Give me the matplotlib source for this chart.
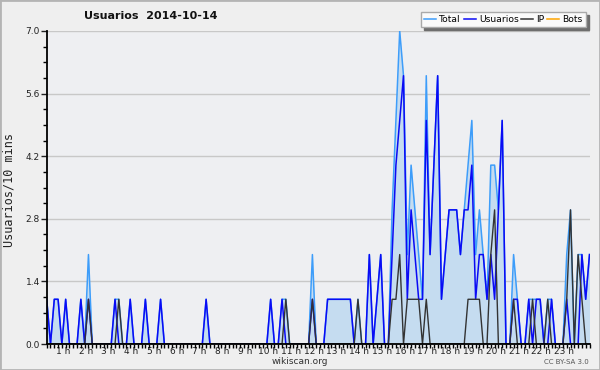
import numpy as np
import matplotlib.pyplot as plt
from matplotlib.lines import Line2D
from matplotlib.patches import Rectangle
from matplotlib.ticker import FixedLocator, MultipleLocator

title = "Usuarios  2014-10-14"
ylabel = "Usuarios/10 mins"
series_names = ["Total", "Usuarios", "IP", "Bots"]
hour_labels = [f"{h} h" for h in range(1, 24)]
ytick_values = [0.0, 1.4, 2.8, 4.2, 5.6, 7.0]

# one value per 10 minutes (144 slots)
total = [1, 0, 1, 1, 0, 1, 0, 0, 0, 1,
         0, 2, 0, 0, 0, 0, 0, 0, 1, 1,
         0, 0, 1, 0, 0, 0, 1, 0, 0, 0,
         1, 0, 0, 0, 0, 0, 0, 0, 0, 0,
         0, 0, 1, 0, 0, 0, 0, 0, 0, 0,
         0, 0, 0, 0, 0, 0, 0, 0, 0, 1,
         0, 0, 1, 1, 0, 0, 0, 0, 0, 0,
         2, 0, 0, 0, 1, 1, 1, 1, 1, 1,
         1, 0, 1, 0, 0, 2, 0, 1, 2, 0,
         0, 3, 5, 7, 6, 2, 4, 3, 2, 1,
         6, 2, 4, 6, 1, 2, 3, 3, 3, 2,
         3, 4, 5, 2, 3, 2, 1, 4, 4, 3,
         5, 0, 0, 2, 1, 0, 0, 1, 1, 1,
         1, 0, 1, 1, 0, 0, 0, 2, 3, 0,
         2, 2, 1, 2]
usuarios = [1, 0, 1, 1, 0, 1, 0, 0, 0, 1,
            0, 1, 0, 0, 0, 0, 0, 0, 1, 0,
            0, 0, 1, 0, 0, 0, 1, 0, 0, 0,
            1, 0, 0, 0, 0, 0, 0, 0, 0, 0,
            0, 0, 1, 0, 0, 0, 0, 0, 0, 0,
            0, 0, 0, 0, 0, 0, 0, 0, 0, 1,
            0, 0, 1, 0, 0, 0, 0, 0, 0, 0,
            1, 0, 0, 0, 1, 1, 1, 1, 1, 1,
            1, 0, 0, 0, 0, 2, 0, 1, 2, 0,
            0, 2, 4, 5, 6, 1, 3, 2, 1, 1,
            5, 2, 4, 6, 1, 2, 3, 3, 3, 2,
            3, 3, 4, 1, 2, 2, 1, 2, 1, 3,
            5, 0, 0, 1, 1, 0, 0, 1, 0, 1,
            1, 0, 0, 1, 0, 0, 0, 1, 0, 0,
            0, 2, 1, 2]
ip = [0, 0, 0, 0, 0, 0, 0, 0, 0, 0,
      0, 1, 0, 0, 0, 0, 0, 0, 0, 1,
      0, 0, 0, 0, 0, 0, 0, 0, 0, 0,
      0, 0, 0, 0, 0, 0, 0, 0, 0, 0,
      0, 0, 0, 0, 0, 0, 0, 0, 0, 0,
      0, 0, 0, 0, 0, 0, 0, 0, 0, 0,
      0, 0, 0, 1, 0, 0, 0, 0, 0, 0,
      1, 0, 0, 0, 0, 0, 0, 0, 0, 0,
      0, 0, 1, 0, 0, 0, 0, 0, 0, 0,
      0, 1, 1, 2, 0, 1, 1, 1, 1, 0,
      1, 0, 0, 0, 0, 0, 0, 0, 0, 0,
      0, 1, 1, 1, 1, 0, 0, 2, 3, 0,
      0, 0, 0, 1, 0, 0, 0, 0, 1, 0,
      0, 0, 1, 0, 0, 0, 0, 1, 3, 0,
      2, 1, 0, 0]
bots = [0] * 144

colors = ["#3d9dfa", "#0a0af5", "#333333", "#ffa500"]
fill_color = "#c5dcf0"
bg = "#efefef"

W, H = 600, 370
fig = plt.figure(figsize=(6, 3.7), dpi=100, facecolor=bg)
ax = fig.add_axes([46.7 / W, 26 / H, 542.8 / W, 313 / H], facecolor="#eeeff2")

x = np.arange(len(total))
ax.fill_between(x, 0, total, color=fill_color, lw=0, zorder=1)
ax.plot(x, total, color=colors[0], lw=1.1, zorder=3)
ax.plot(x, usuarios, color=colors[1], lw=1.1, zorder=4)
ax.plot(x, ip, color=colors[2], lw=1.0, zorder=5)
ax.plot(x, bots, color=colors[3], lw=1.0, zorder=2)

ax.set_xlim(0, len(total) - 1)
ax.set_ylim(0, 7)

for s in ["top", "right"]:
    ax.spines[s].set_visible(False)
for s in ["left", "bottom"]:
    ax.spines[s].set_linewidth(1.3)
    ax.spines[s].set_zorder(6)

ax.yaxis.set_major_locator(FixedLocator(ytick_values))
ax.set_yticklabels([f"{v:.1f}" for v in ytick_values])
ax.yaxis.set_minor_locator(MultipleLocator(0.35))
ax.tick_params(axis="y", which="major", length=4, width=1, labelsize=6.5,
               pad=1, colors="#222222")
ax.tick_params(axis="y", which="minor", length=3, width=1)
ax.grid(axis="y", which="major", color="#c8c8c8", lw=1, zorder=0)
ax.set_axisbelow(True)

ax.xaxis.set_minor_locator(MultipleLocator(1))
ax.set_xticks([6 * h - 1.7 for h in range(1, 24)])
ax.set_xticklabels(hour_labels)
ax.tick_params(axis="x", which="major", length=0, labelsize=6.5, pad=2,
               colors="#222222")
ax.tick_params(axis="x", which="minor", length=3, width=1)

fig.text(151 / W, 1 - 16 / H, title, ha="center", va="center",
         fontsize=8, fontweight="bold", color="#111111")
fig.text(9 / W, 1 - 190 / H, ylabel, ha="center", va="center",
         rotation=90, fontsize=8.5, color="#222222",
         family="DejaVu Sans Mono")
fig.text(300 / W, 1 - 361 / H, "wikiscan.org", ha="center", va="center",
         fontsize=6.5, color="#333333")
fig.text(589 / W, 1 - 362 / H, "CC BY-SA 3.0", ha="right", va="center",
         fontsize=5, color="#555555")

handles = [Line2D([], [], color=c, lw=1.1) for c in colors]
leg = fig.legend(handles, series_names, ncol=4, loc="upper right",
                 bbox_to_anchor=(586 / W, 1 - 12 / H), frameon=True,
                 fancybox=False, shadow={"color": "#6e6e6e", "alpha": 1},
                 edgecolor="#aaaaaa", facecolor="#fafafa", framealpha=1,
                 fontsize=6.6, handlelength=1.3, handletextpad=0.35,
                 columnspacing=0.3, borderpad=0.35, borderaxespad=0)
leg.get_frame().set_linewidth(1)

fig.patches.append(Rectangle((0, 0), 1, 1, transform=fig.transFigure,
                             fill=False, ec="#b4b4b4", lw=2))

fig.savefig("out.png", dpi=100, facecolor=bg)
